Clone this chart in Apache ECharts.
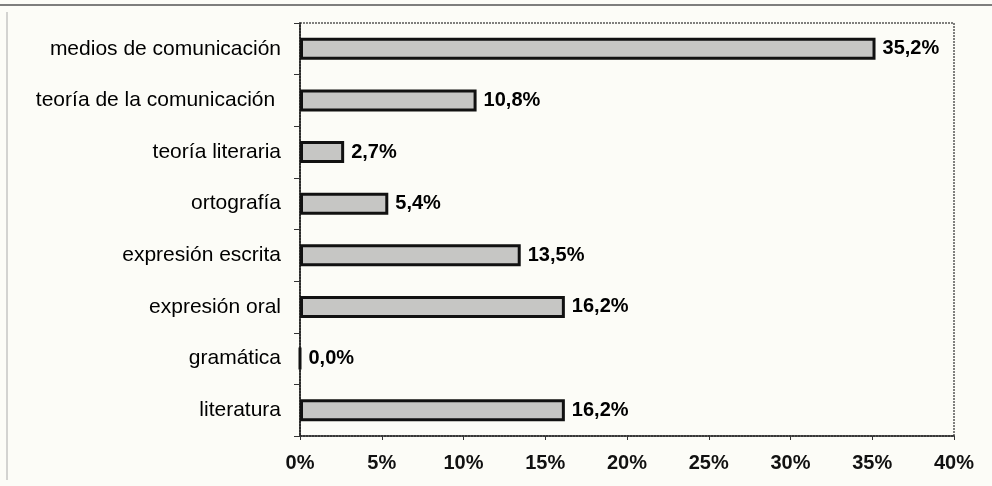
<!DOCTYPE html>
<html lang="es">
<head>
<meta charset="UTF-8">
<title>chart</title>
<script src="https://cdn.jsdelivr.net/npm/echarts@6/dist/echarts.min.js"></script>
<style>
html, body { margin: 0; padding: 0; background: #fcfcf7; }
#main { width: 992px; height: 486px; }
</style>
</head>
<body>
<div id="main"></div>
<script>
// datos (de abajo hacia arriba)
var categorias = ['literatura', 'gramática', 'expresión oral', 'expresión escrita',
    'ortografía', 'teoría literaria', 'teoría de la comunicación ', 'medios de comunicación'];
var porcentajes = [16.2, 0.0, 16.2, 13.5, 5.4, 2.7, 10.8, 35.2];

var fuente = '"Liberation Sans", Arial, sans-serif';

var chart = echarts.init(document.getElementById('main'));
chart.setOption({
    backgroundColor: '#fcfcf7',
    animation: false,
    grid: {
        left: 300, right: 38, top: 23, bottom: 50,
        show: true,
        borderColor: '#555',
        borderWidth: 1.5,
        borderType: [2, 1]
    },
    xAxis: {
        type: 'value',
        min: 0, max: 40, interval: 5,
        axisLine: { show: true, lineStyle: { color: '#222', width: 1.5 } },
        axisTick: { show: true, length: 4, lineStyle: { color: '#333' } },
        splitLine: { show: false },
        axisLabel: {
            margin: 17,
            color: '#111',
            fontFamily: fuente,
            fontSize: 20,
            fontWeight: 'bold',
            formatter: '{value}%'
        }
    },
    yAxis: {
        type: 'category',
        data: categorias,
        axisLine: { show: true, lineStyle: { color: '#111', width: 1.5 } },
        axisTick: { show: true, length: 6, lineStyle: { color: '#333' } },
        axisLabel: {
            margin: 19,
            color: '#000',
            fontFamily: fuente,
            fontSize: 21
        }
    },
    series: [{
        type: 'bar',
        data: porcentajes,
        barWidth: 22,
        itemStyle: {
            color: '#c6c6c4',
            borderColor: '#111',
            borderWidth: 3
        },
        label: {
            show: true,
            position: 'right',
            distance: 7,
            color: '#000',
            fontFamily: fuente,
            fontSize: 20,
            fontWeight: 'bold',
            formatter: function (p) {
                return p.value.toFixed(1).replace('.', ',') + '%';
            }
        }
    }],
    graphic: [
        { type: 'line', shape: { x1: 0, y1: 5, x2: 992, y2: 5 }, style: { stroke: '#555', lineWidth: 1.5 } },
        { type: 'line', shape: { x1: 7, y1: 12, x2: 7, y2: 480 }, style: { stroke: '#aaa', lineWidth: 1 } }
    ]
});
</script>
</body>
</html>
